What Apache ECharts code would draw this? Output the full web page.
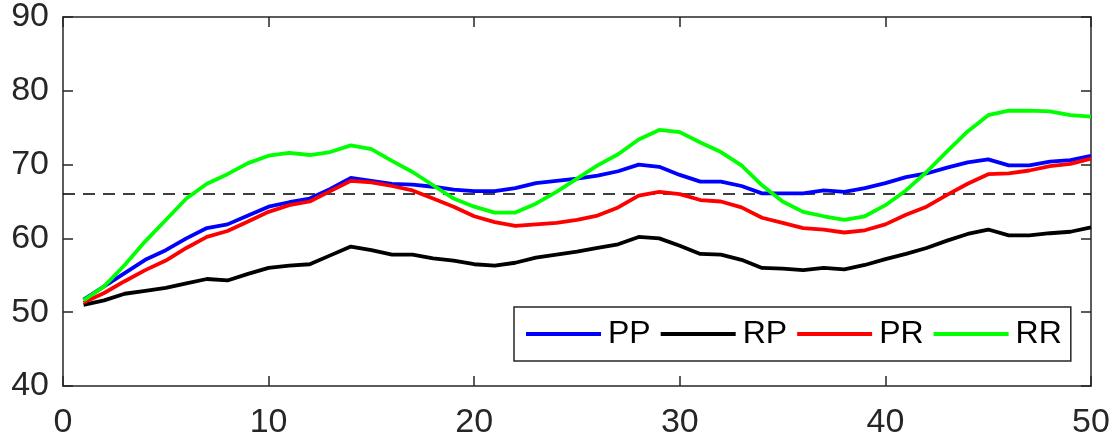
<!DOCTYPE html>
<html>
<head>
<meta charset="utf-8">
<script src="https://cdn.jsdelivr.net/npm/echarts@6/dist/echarts.min.js"></script>
<style>
html,body{margin:0;padding:0;background:#fff;}
#chart{width:1118px;height:444px;}
</style>
</head>
<body>
<div id="chart"></div>
<script>
const xs = [1,2,3,4,5,6,7,8,9,10,11,12,13,14,15,16,17,18,19,20,21,22,23,24,25,26,27,28,29,30,31,32,33,34,35,36,37,38,39,40,41,42,43,44,45,46,47,48,49,50];
const PP = [51.7,53.5,55.3,57.1,58.4,60.0,61.4,61.9,63.1,64.3,64.9,65.4,66.7,68.2,67.8,67.4,67.3,67.0,66.6,66.4,66.4,66.8,67.5,67.8,68.1,68.5,69.1,70.0,69.7,68.6,67.7,67.7,67.1,66.1,66.1,66.1,66.5,66.3,66.8,67.5,68.3,68.8,69.6,70.3,70.7,69.9,69.9,70.4,70.6,71.2];
const RP = [51.0,51.6,52.5,52.9,53.3,53.9,54.5,54.3,55.2,56.0,56.3,56.5,57.7,58.9,58.4,57.8,57.8,57.3,57.0,56.5,56.3,56.7,57.4,57.8,58.2,58.7,59.2,60.2,60.0,59.0,57.9,57.8,57.1,56.0,55.9,55.7,56.0,55.8,56.4,57.2,57.9,58.7,59.7,60.6,61.2,60.4,60.4,60.7,60.9,61.5];
const PR = [51.3,52.6,54.2,55.7,57.0,58.7,60.2,61.0,62.3,63.6,64.5,65.0,66.4,67.8,67.6,67.1,66.5,65.4,64.3,63.0,62.2,61.7,61.9,62.1,62.5,63.1,64.2,65.8,66.3,66.0,65.2,65.0,64.2,62.8,62.1,61.4,61.2,60.8,61.1,61.9,63.2,64.3,65.9,67.4,68.7,68.8,69.2,69.8,70.1,70.8];
const RR = [51.6,53.5,56.4,59.6,62.5,65.4,67.4,68.7,70.2,71.2,71.6,71.3,71.7,72.6,72.1,70.5,69.0,67.2,65.4,64.3,63.5,63.5,64.7,66.3,68.1,69.9,71.4,73.4,74.7,74.4,73.0,71.7,69.9,67.2,65.0,63.6,63.0,62.5,63.0,64.5,66.5,69.0,71.8,74.5,76.7,77.3,77.3,77.2,76.7,76.5];
const threshold = [66];
const xRange = [0, 50];
const yRange = [40, 90];
const seriesNames = ['PP','RP','PR','RR'];
const seriesColors = ['#0000ff','#000000','#ff0000','#00ff00'];

const axisColor = '#262626';
const font = 'Liberation Sans, Arial, sans-serif';
const dataSets = [PP, RP, PR, RR];

const chart = echarts.init(document.getElementById('chart'), null, {renderer:'canvas'});
const axisCommon = {
  axisLine:{show:true, onZero:false, lineStyle:{color:axisColor, width:1.5}},
  axisTick:{show:true, inside:true, length:10, lineStyle:{color:axisColor, width:1.5}},
  splitLine:{show:false}
};
const option = {
  animation:false,
  backgroundColor:'#ffffff',
  grid:{left:63, right:27, top:14, bottom:58, containLabel:false},
  xAxis:[
    Object.assign({type:'value', min:xRange[0], max:xRange[1], interval:10, position:'bottom',
      axisLabel:{color:axisColor, fontSize:34, fontFamily:font, margin:20}}, axisCommon),
    Object.assign({type:'value', min:xRange[0], max:xRange[1], interval:10, position:'top',
      axisLabel:{show:false}}, axisCommon)
  ],
  yAxis:[
    Object.assign({type:'value', min:yRange[0], max:yRange[1], interval:10, position:'left',
      axisLabel:{color:axisColor, fontSize:34, fontFamily:font, margin:14, padding:[4,0,0,0]}}, axisCommon),
    Object.assign({type:'value', min:yRange[0], max:yRange[1], interval:10, position:'right',
      axisLabel:{show:false}}, axisCommon)
  ],
  legend:{
    data:seriesNames,
    left:514, top:307,
    orient:'horizontal',
    itemWidth:75, itemHeight:4, itemGap:10,
    padding:[11,9,11,12],
    borderColor:axisColor, borderWidth:1.5,
    backgroundColor:'#ffffff',
    icon:'rect',
    textStyle:{color:'#000', fontSize:32, fontFamily:font, lineHeight:32, padding:[0,0,0,2]}
  },
  series: seriesNames.map((n,k)=>({
    name:n, type:'line', xAxisIndex:0, yAxisIndex:0,
    data: xs.map((x,i)=>[x, dataSets[k][i]]),
    showSymbol:false, symbol:'none',
    lineStyle:{color:seriesColors[k], width:3.8},
    itemStyle:{color:seriesColors[k]},
    z: 3 + k
  })).concat([{
    name:'threshold', type:'line', xAxisIndex:0, yAxisIndex:0,
    data: xRange.map(x=>[x, threshold[0]]),
    showSymbol:false, symbol:'none',
    lineStyle:{color:'#000', width:1.5, type:[12,8]},
    z:2, silent:true
  }])
};
chart.setOption(option);
</script>
</body>
</html>
